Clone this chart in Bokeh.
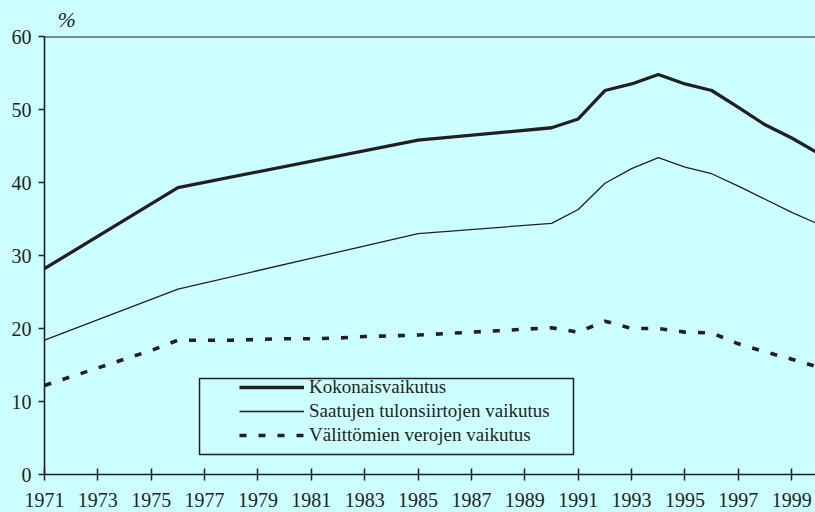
from bokeh.plotting import figure
from bokeh.models import Range1d, FixedTicker, Span, Legend, LegendItem, BoxAnnotation
from bokeh.embed import file_html
from bokeh.resources import INLINE

# ---- data ----
years_main = [1971, 1976, 1985, 1990, 1991, 1992, 1993, 1994, 1995, 1996, 1997, 1998, 1999, 2000]
kokonaisvaikutus = [28.2, 39.3, 45.8, 47.5, 48.7, 52.6, 53.5, 54.8, 53.5, 52.6, 50.3, 47.9, 46.1, 44.0]
saatujen_tulonsiirtojen = [18.4, 25.4, 33.0, 34.4, 36.3, 39.9, 41.9, 43.4, 42.1, 41.2, 39.5, 37.7, 35.9, 34.3]

years_tax = [1971, 1972, 1973, 1974, 1975, 1976, 1977, 1978, 1979, 1980,
             1981, 1982, 1983, 1984, 1985, 1986, 1987, 1988, 1989, 1990,
             1991, 1992, 1993, 1994, 1995, 1996, 1997, 1998, 1999, 2000]
valittomien_verojen = [12.2, 13.4, 14.6, 15.8, 17.0, 18.4, 18.4, 18.4, 18.5, 18.6,
                       18.6, 18.7, 18.9, 19.0, 19.1, 19.3, 19.5, 19.7, 19.9, 20.1,
                       19.5, 21.0, 20.0, 20.0, 19.5, 19.4, 17.9, 16.8, 15.8, 14.7]

x_tick_years = [1971, 1973, 1975, 1977, 1979, 1981, 1983, 1985, 1987, 1989,
                1991, 1993, 1995, 1997, 1999]
y_tick_values = [0, 10, 20, 30, 40, 50, 60]
series_labels = ["Kokonaisvaikutus",
                 "Saatujen tulonsiirtojen vaikutus",
                 "Välittömien verojen vaikutus"]
unit_label = "%"

# ---- style ----
BG = "#ccffff"
INK = "#231f20"
FONT = "Liberation Serif"

p = figure(width=815, height=512, output_backend="svg", toolbar_location=None,
           title=unit_label,
           x_range=Range1d(1971, 1999.89), y_range=Range1d(0, 60),
           min_border_left=44, min_border_right=0, min_border_top=36, min_border_bottom=38,
           background_fill_color=BG, border_fill_color=BG)
p.outline_line_color = None
p.grid.visible = False

p.title.text_font = FONT
p.title.text_font_style = "italic"
p.title.text_font_size = "22px"
p.title.text_color = INK
p.title.align = "left"
p.title.offset = 13
p.title.standoff = 9

r1 = p.line(years_main, kokonaisvaikutus, line_width=3.3, line_color=INK)
r2 = p.line(years_main, saatujen_tulonsiirtojen, line_width=1.3, line_color=INK)
r3 = p.line(years_tax, valittomien_verojen, line_width=3.6, line_color=INK, line_dash="7 12")

# top border line
p.add_layout(Span(location=60, dimension="width", line_color=INK, line_width=2))

# axes
for ax in (p.xaxis, p.yaxis):
    ax.axis_line_color = INK
    ax.axis_line_width = 1.6
    ax.major_tick_line_color = INK
    ax.major_tick_line_width = 1.5
    ax.minor_tick_line_color = None
    ax.major_label_text_font = FONT
    ax.major_label_text_font_size = "20px"
    ax.major_label_text_color = INK

p.xaxis.ticker = FixedTicker(ticks=x_tick_years)
p.xaxis.major_tick_in = 6
p.xaxis.major_tick_out = 6
p.xaxis.major_label_standoff = 12

p.yaxis.ticker = FixedTicker(ticks=y_tick_values)
p.yaxis.major_tick_in = 0
p.yaxis.major_tick_out = 6
p.yaxis.major_label_standoff = 7

# legend
legend = Legend(items=[LegendItem(label=series_labels[0], renderers=[r1]),
                       LegendItem(label=series_labels[1], renderers=[r2]),
                       LegendItem(label=series_labels[2], renderers=[r3])],
                location=(195, 28), glyph_width=65, glyph_height=20, label_height=20,
                label_standoff=5, spacing=2, padding=0, margin=0,
                border_line_color=None, background_fill_alpha=0,
                label_text_font=FONT, label_text_font_size="19px", label_text_color=INK)
p.add_layout(legend)

p.add_layout(BoxAnnotation(left=155, right=529, bottom=20, top=96,
                           left_units="screen", right_units="screen",
                           bottom_units="screen", top_units="screen",
                           fill_alpha=0, line_color=INK, line_alpha=1.0, line_width=1.5))

html = file_html(p, INLINE)
html = html.replace("<head>", "<head><style>html,body{background:#ccffff;}</style>", 1)
open("out.html", "w").write(html)
